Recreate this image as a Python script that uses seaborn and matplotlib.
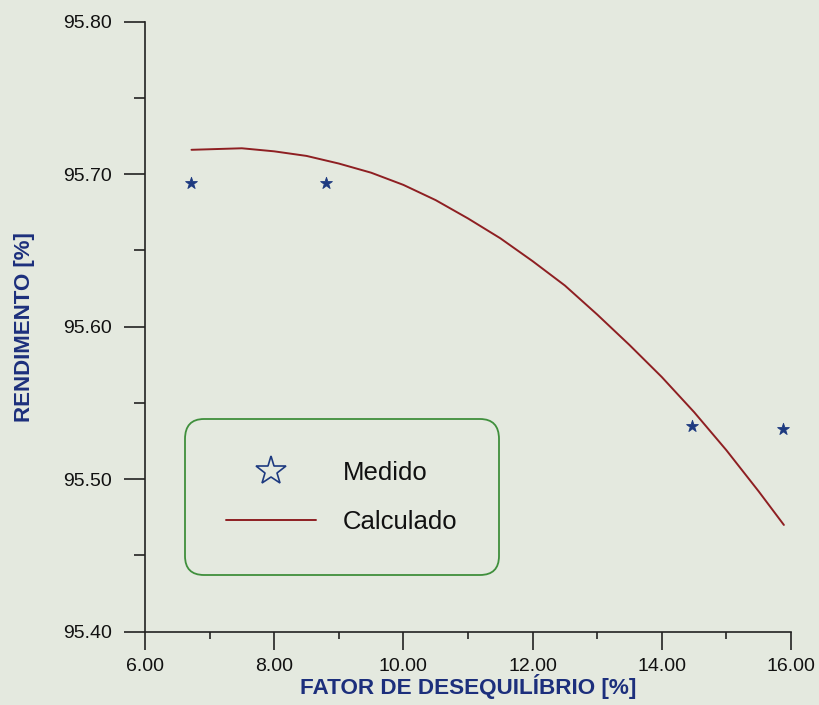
import matplotlib
matplotlib.use("Agg")
import matplotlib.pyplot as plt
from matplotlib.lines import Line2D
from matplotlib.ticker import MultipleLocator, FixedLocator
import seaborn as sns
import pandas as pd

# Measured points
medido_x = [6.71, 8.81, 14.47, 15.88]
medido_y = [95.694, 95.694, 95.535, 95.533]

# Calculated curve
calc_x = [6.72, 7.50, 8.00, 8.50, 9.00, 9.50, 10.00, 10.50, 11.00, 11.50, 12.00,
          12.50, 13.00, 13.50, 14.00, 14.50, 15.00, 15.50, 15.89]
calc_y = [95.716, 95.717, 95.715, 95.712, 95.707, 95.701, 95.693, 95.683, 95.671,
          95.658, 95.643, 95.627, 95.608, 95.588, 95.567, 95.544, 95.519, 95.492, 95.470]

x_ticks = [6.00, 8.00, 10.00, 12.00, 14.00, 16.00]
y_ticks = [95.40, 95.50, 95.60, 95.70, 95.80]

BG = "#e4e9df"
BLUE = "#1c2f7c"
RED = "#8e1f22"
STAR = "#1d3a80"
GREEN = "#3f8f3c"

sns.set_theme(style="ticks")
plt.rcParams["font.family"] = ["Liberation Sans", "DejaVu Sans"]

fig = plt.figure(figsize=(8.19, 7.05), dpi=100, facecolor=BG)
ax = fig.add_axes([0.177, 0.104, 0.7888, 0.8652], facecolor=BG)

df_m = pd.DataFrame({"x": medido_x, "y": medido_y})
df_c = pd.DataFrame({"x": calc_x, "y": calc_y})

sns.lineplot(data=df_c, x="x", y="y", ax=ax, color=RED, linewidth=1.4, sort=False)
sns.scatterplot(data=df_m, x="x", y="y", ax=ax, marker="*", s=80, color=STAR,
                edgecolor=STAR, linewidth=0.6)

ax.set_xlim(6.0, 16.0)
ax.set_ylim(95.40, 95.80)
ax.xaxis.set_major_locator(FixedLocator(x_ticks))
ax.yaxis.set_major_locator(FixedLocator(y_ticks))
ax.xaxis.set_minor_locator(MultipleLocator(1.0))
ax.yaxis.set_minor_locator(MultipleLocator(0.05))
ax.set_xticklabels([f"{v:.2f}" for v in x_ticks])
ax.set_yticklabels([f"{v:.2f}" for v in y_ticks])

for s in ["top", "right"]:
    ax.spines[s].set_visible(False)
for s in ["left", "bottom"]:
    ax.spines[s].set_color("#222222")
    ax.spines[s].set_linewidth(1.2)

ax.tick_params(axis="x", which="major", direction="out", length=13, width=1.2,
               color="#222222", labelsize=14, labelcolor="#111111", pad=6)
ax.tick_params(axis="y", which="major", direction="out", length=15, width=1.2,
               color="#222222", labelsize=14, labelcolor="#111111", pad=8.5)
ax.tick_params(axis="x", which="minor", direction="out", length=5, width=1.2,
               color="#222222")
ax.tick_params(axis="y", which="minor", direction="out", length=8, width=1.2,
               color="#222222")

ax.set_xlabel("FATOR DE DESEQUILÍBRIO [%]", fontsize=16.2, fontweight="bold",
              color=BLUE)
ax.xaxis.set_label_coords(0.5, -0.069)
ax.set_ylabel("RENDIMENTO [%]", fontsize=16, fontweight="bold", color=BLUE)
ax.yaxis.set_label_coords(-0.170, 0.5)

handles = [
    Line2D([], [], linestyle="none", marker="*", markersize=22,
           markerfacecolor="none", markeredgecolor=STAR, markeredgewidth=1.2),
    Line2D([], [], color=RED, linewidth=1.4),
]
leg = ax.legend(handles, ["Medido", "Calculado"], loc="lower left",
                bbox_to_anchor=(0.062, 0.0927), borderaxespad=0, fontsize=18.5,
                handlelength=3.5, handletextpad=1.05, borderpad=1.6,
                labelspacing=0.99, frameon=True, fancybox=True,
                facecolor=BG, edgecolor=GREEN, framealpha=1)
leg.get_frame().set_linewidth(1.3)
leg.get_frame().set_boxstyle("round", pad=0, rounding_size=0.75)
for t in leg.get_texts():
    t.set_color("#111111")

fig.savefig("out.png", dpi=100, facecolor=BG)
